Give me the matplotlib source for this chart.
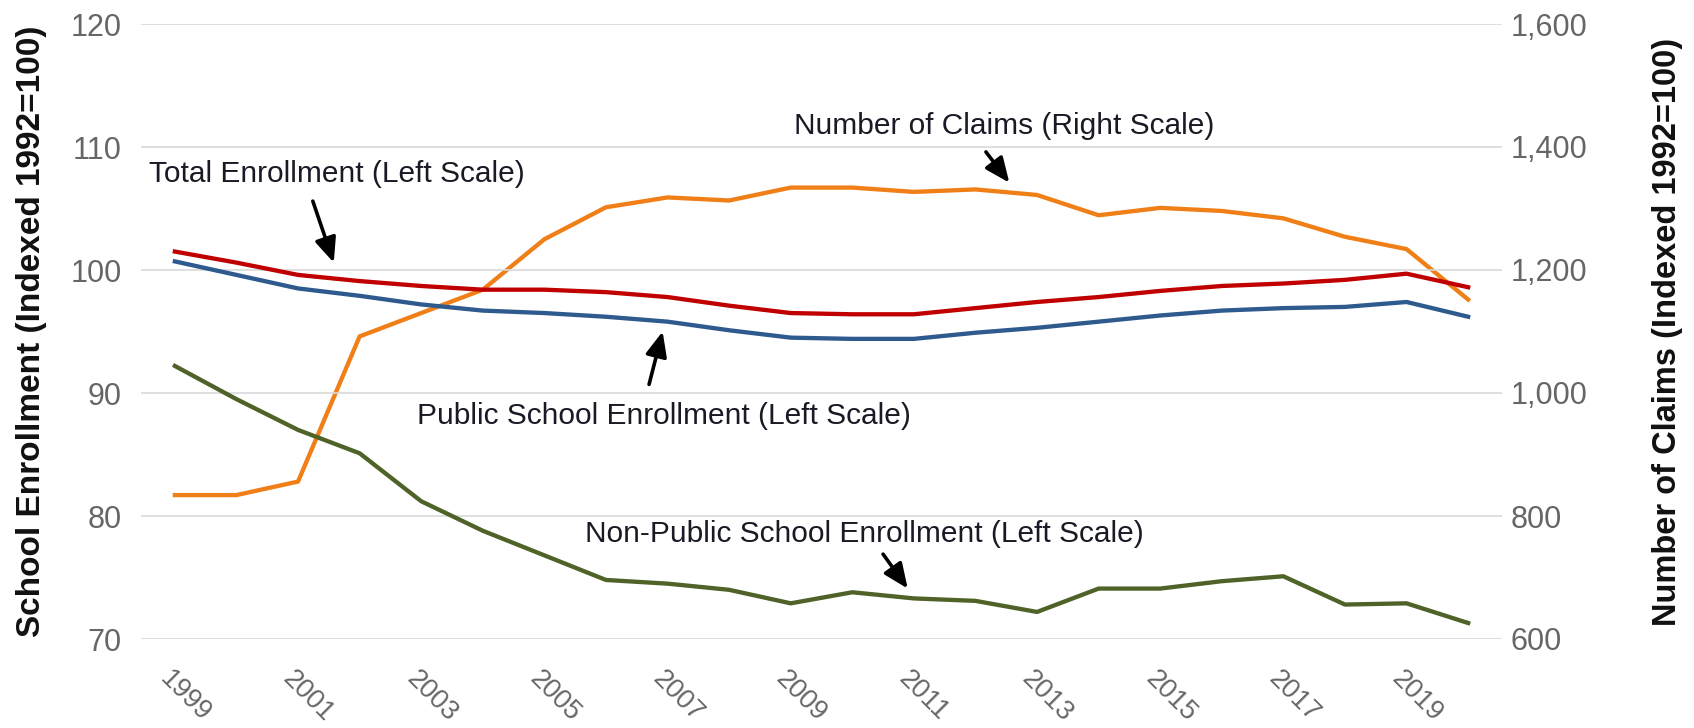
import matplotlib
matplotlib.use("Agg")
import matplotlib.pyplot as plt
import matplotlib.transforms as mtransforms

plt.rcParams['font.family'] = ['Liberation Sans', 'DejaVu Sans']

years = list(range(1999, 2021))

# left scale (indexed 1992=100)
total_enrollment = [101.5, 100.6, 99.6, 99.1, 98.7, 98.4, 98.4, 98.2, 97.8, 97.1, 96.5, 96.4, 96.4,
                    96.9, 97.4, 97.8, 98.3, 98.7, 98.9, 99.2, 99.7, 98.6]
public_enrollment = [100.7, 99.6, 98.5, 97.9, 97.2, 96.7, 96.5, 96.2, 95.8, 95.1, 94.5, 94.4, 94.4,
                     94.9, 95.3, 95.8, 96.3, 96.7, 96.9, 97.0, 97.4, 96.2]
nonpublic_enrollment = [92.2, 89.5, 87.0, 85.1, 81.2, 78.8, 76.8, 74.8, 74.5, 74.0, 72.9, 73.8, 73.3,
                        73.1, 72.2, 74.1, 74.1, 74.7, 75.1, 72.8, 72.9, 71.3]
# right scale
claims = [834, 834, 856, 1092, 1130, 1168, 1250, 1302, 1318, 1313, 1334, 1334, 1327,
          1331, 1322, 1289, 1301, 1296, 1284, 1254, 1234, 1152]

left_ticks = [70, 80, 90, 100, 110, 120]
right_ticks = [600, 800, 1000, 1200, 1400, 1600]
year_ticks = list(range(1999, 2021, 2))

fig = plt.figure(figsize=(16.94, 7.28), dpi=100)
ax = fig.add_axes([141 / 1694, 1 - 639 / 728, (1502 - 141) / 1694, (639 - 24) / 728])
ax2 = ax.twinx()

tick_color = '#666666'
text_color = '#1a1a26'

ax.set_ylim(70, 120)
ax2.set_ylim(600, 1600)
ax.set_xlim(1998.45, 2020.55)

for y in left_ticks:
    ax.axhline(y, color='#d9d9d9', lw=1.2, zorder=0)

ax.plot(years, total_enrollment, color='#C00000', lw=3.1, zorder=3)
ax.plot(years, public_enrollment, color='#2E5A8E', lw=3.1, zorder=3)
ax.plot(years, nonpublic_enrollment, color='#4F6228', lw=3.1, zorder=3)
ax2.plot(years, claims, color='#F07F17', lw=3.1, zorder=2)
ax.set_zorder(ax2.get_zorder() + 1)
ax.patch.set_visible(False)

for a in (ax, ax2):
    for s in a.spines.values():
        s.set_visible(False)
    a.tick_params(length=0, labelsize=22, labelcolor=tick_color)

ax.set_yticks(left_ticks)
ax.tick_params(axis='y', pad=14)
ax2.set_yticks(right_ticks)
ax2.set_yticklabels([f'{v:,}' for v in right_ticks])
ax2.tick_params(axis='y', pad=6)

ax.set_xticks(year_ticks)
ax.set_xticklabels([str(y) for y in year_ticks], rotation=-45, ha='left', va='center',
                   rotation_mode='anchor', fontsize=19.5)
ax.tick_params(axis='x', pad=26)
shift = mtransforms.ScaledTranslation(-0.11, 0, fig.dpi_scale_trans)
for lbl in ax.get_xticklabels():
    lbl.set_transform(lbl.get_transform() + shift)

ax.set_ylabel('School Enrollment (Indexed 1992=100)', fontsize=24, fontweight='bold',
              color='#111111')
ax.yaxis.set_label_coords(-0.069, 0.5)
ax2.set_ylabel('Number of Claims (Indexed 1992=100)', fontsize=23.5, fontweight='bold',
               color='#111111')
ax2.yaxis.set_label_coords(1.11, 0.5)

arrow = dict(arrowstyle='-|>,head_length=1.5,head_width=0.65', color='black', lw=2.6,
             shrinkA=0, shrinkB=0)
fs = 21.5
ax.text(1998.58, 107.8, 'Total Enrollment (Left Scale)', fontsize=fs, color=text_color,
        va='center', ha='left')
ax.annotate('', xy=(2001.58, 100.6), xytext=(2001.24, 105.6), arrowprops=arrow)

ax.text(2009.05, 111.7, 'Number of Claims (Right Scale)', fontsize=fs, color=text_color,
        va='center', ha='left')
ax.annotate('', xy=(2012.55, 107.1), xytext=(2012.17, 109.6), arrowprops=arrow)

ax.text(2002.93, 88.1, 'Public School Enrollment (Left Scale)', fontsize=fs, color=text_color,
        va='center', ha='left')
ax.annotate('', xy=(2006.92, 95.0), xytext=(2006.7, 90.7), arrowprops=arrow)

ax.text(2005.66, 78.5, 'Non-Public School Enrollment (Left Scale)', fontsize=fs,
        color=text_color, va='center', ha='left')
ax.annotate('', xy=(2010.9, 74.1), xytext=(2010.5, 76.9), arrowprops=arrow)

fig.savefig('out.png', dpi=100)
